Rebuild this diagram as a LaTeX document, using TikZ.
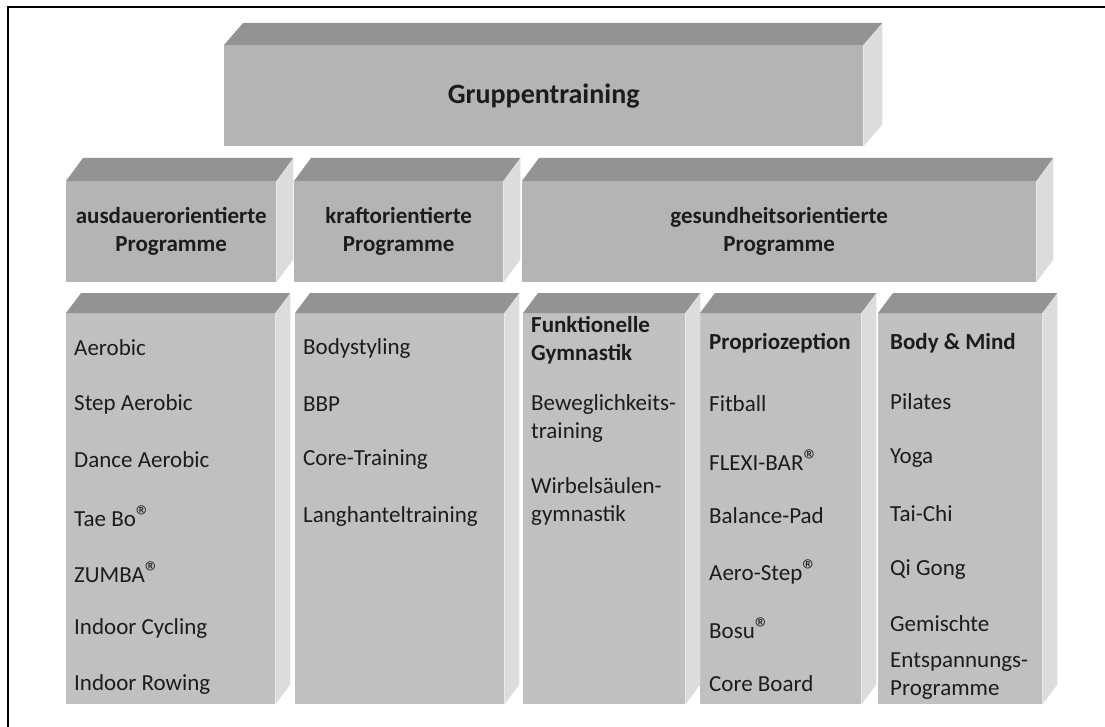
\documentclass[tikz,border=0pt]{standalone}
\usepackage{fontspec}
\setmainfont{Carlito}
\usepackage{xcolor}
\usetikzlibrary{positioning,calc}

\definecolor{topgrey}{HTML}{939393}
\definecolor{frontgrey}{HTML}{B4B4B4}
\definecolor{frontlight}{HTML}{C0C0C0}
\definecolor{sidegrey}{HTML}{DCDCDC}
\definecolor{inkgrey}{HTML}{1C1C1C}

\newcommand{\regmark}{{\fontsize{30}{30}\selectfont ®}}

\tikzset{
    front-face/.style={
        rectangle,
        fill=frontgrey,
        inner sep=0pt,
        anchor=north west,
        align=center,
        text=inkgrey,
        font=\fontsize{23}{28}\selectfont\bfseries
    },
    list-face/.style={
        front-face,
        fill=frontlight
    },
    top-face/.style={fill=topgrey},
    side-face/.style={fill=sidegrey},
    item/.style={
        anchor=west,
        inner sep=0pt,
        align=left,
        text=inkgrey,
        font=\fontsize{23}{28}\selectfont
    },
    item-head/.style={
        item,
        font=\fontsize{23}{28}\selectfont\bfseries
    },
}

\begin{document}
\begin{tikzpicture}[x=1pt,y=-1pt]
    \useasboundingbox (0,0) rectangle (1105,727);
    \draw[line width=2pt] (8,727) |- (1105,7);

    % front faces
    \node[front-face,minimum width=639pt,minimum height=101pt,
          font=\fontsize{28}{34}\selectfont\bfseries] (grp) at (224,45) {Gruppentraining};

    \node[front-face,minimum width=210pt,minimum height=101pt] (ausd) at (66,181) {ausdauerorientierte\\Programme};
    \node[front-face,minimum width=209pt,minimum height=101pt] (kraft) at (294,181) {kraftorientierte\\Programme};
    \node[front-face,minimum width=514pt,minimum height=101pt] (ges) at (522,181) {gesundheitsorientierte\\Programme};

    \node[list-face,minimum width=209pt,minimum height=391pt] (ausd-list) at (66,313) {};
    \node[list-face,minimum width=209pt,minimum height=391pt] (kraft-list) at (295,313) {};
    \node[list-face,minimum width=162pt,minimum height=391pt] (funk) at (523,313) {};
    \node[list-face,minimum width=161pt,minimum height=391pt] (prop) at (700,313) {};
    \node[list-face,minimum width=164pt,minimum height=391pt] (body) at (878,313) {};

    % top and side faces
    \foreach \b/\dx/\dy in {grp/19/22,ausd/17/23,kraft/17/23,ges/17/23,
                            ausd-list/15/20,kraft-list/15/20,funk/15/20,prop/15/20,body/15/20} {
        \fill[top-face] (\b.north west) -- ++(\dx,-\dy)
            -- ($(\b.north east)+(\dx,-\dy)$) -- (\b.north east) -- cycle;
        \fill[side-face] (\b.north east) -- ++(\dx,-\dy)
            -- ($(\b.south east)+(\dx,-\dy)$) -- (\b.south east) -- cycle;
    }

    % lists
    \foreach \txt [count=\i] in {Aerobic,Step Aerobic,Dance Aerobic,Tae Bo\regmark,
                                 ZUMBA\regmark,Indoor Cycling,Indoor Rowing}
        \node[item] (a\i) at (74,{348+56*(\i-1)}) {\txt};

    \foreach \txt [count=\i] in {Bodystyling,BBP,Core-Training,Langhanteltraining}
        \node[item] (k\i) at (303,{348+56*(\i-1)}) {\txt};

    \node[item-head] (f0) at (531,340) {Funktionelle\\Gymnastik};
    \node[item] (f1) at (531,418) {Beweglichkeits-\\training};
    \node[item] (f2) at (531,501) {Wirbelsäulen-\\gymnastik};

    \node[item-head] (p0) at (709,343) {Propriozeption};
    \foreach \txt [count=\i] in {Fitball,FLEXI-BAR\regmark,Balance-Pad,Aero-Step\regmark,
                                 Bosu\regmark,Core Board}
        \node[item] (p\i) at (709,{404+56*(\i-1)}) {\txt};

    \node[item-head] (b0) at (890,343) {Body \& Mind};
    \foreach \txt [count=\i] in {Pilates,Yoga,Tai-Chi,Qi Gong}
        \node[item] (b\i) at (890,{402+56*(\i-1)}) {\txt};
    \node[item] (b5) at (890,657) {Gemischte\\[8pt]Entspannungs-\\Programme};
\end{tikzpicture}
\end{document}
